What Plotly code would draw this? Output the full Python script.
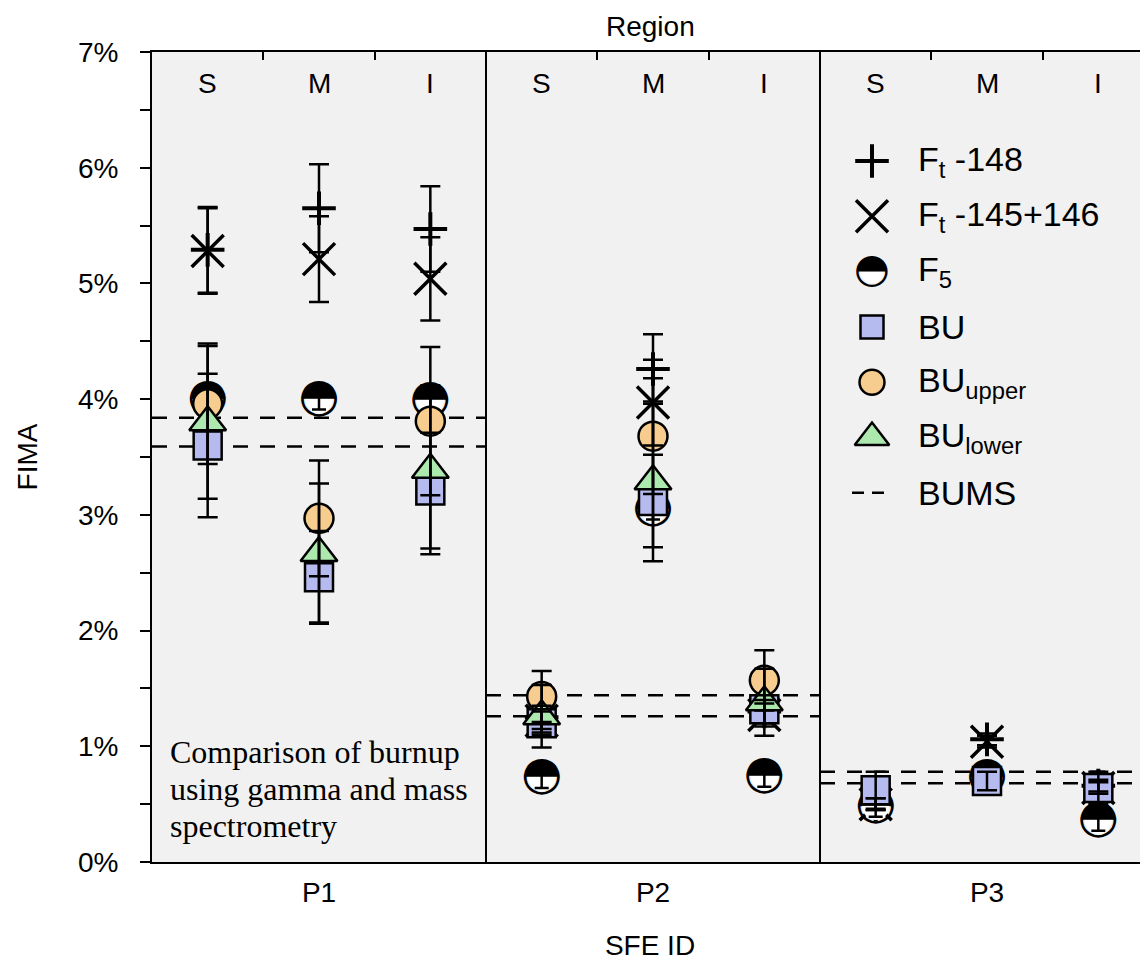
import plotly.graph_objects as go

# ---------------- data ----------------
panels = ["P1", "P2", "P3"]
regions = ["S", "M", "I"]
region_labels = ["S", "M", "I", "S", "M", "I", "S", "M", "I"]
positions = [0, 1, 2, 3, 4, 5, 6, 7, 8]

ft148 = [5.29, 5.65, 5.47, 1.25, 4.26, 1.30, 0.50, 1.06, 0.66]
ft148_err = [0.37, 0.38, 0.37, 0.10, 0.30, 0.10, 0.05, 0.05, 0.05]
ft145 = [5.28, 5.21, 5.04, 1.22, 3.97, 1.27, 0.50, 1.04, 0.64]
ft145_err = [0.37, 0.37, 0.36, 0.10, 0.37, 0.10, 0.05, 0.05, 0.05]
f5 = [4.00, 4.00, 3.99, 0.73, 3.05, 0.74, 0.48, 0.73, 0.36]
f5_err = [0.09, 0.09, 0.09, 0.09, 0.09, 0.09, 0.09, 0.09, 0.09]
bu = [3.60, 2.46, 3.21, 1.20, 3.12, 1.32, 0.62, 0.70, 0.64]
bu_err = [0.62, 0.40, 0.50, 0.10, 0.40, 0.12, 0.16, 0.08, 0.14]
bu_upper = [3.96, 2.97, 3.81, 1.43, 3.68, 1.57, None, None, None]
bu_upper_err = [0.52, 0.50, 0.64, 0.22, 0.50, 0.26, 0, 0, 0]
bu_lower = [3.80, 2.67, 3.39, 1.26, 3.29, 1.38, None, None, None]
bu_lower_err = [0.66, 0.60, 0.73, 0.27, 0.69, 0.29, 0, 0, 0]
bums_high = [3.84, 1.44, 0.78]
bums_low = [3.59, 1.26, 0.68]

y_ticks = [0, 1, 2, 3, 4, 5, 6, 7]
y_minor = [0.5, 1.5, 2.5, 3.5, 4.5, 5.5, 6.5]

legend_names = ["F<sub>t</sub> -148", "F<sub>t</sub> -145+146", "F<sub>5</sub>",
                "BU", "BU<sub>upper</sub>", "BU<sub>lower</sub>", "BUMS"]
note_lines = ["Comparison of burnup", "using gamma and mass", "spectrometry"]

# ---------------- styles / layout geometry ----------------
SANS = "Liberation Sans, Arial, sans-serif"
SERIF = "Liberation Serif, Times New Roman, serif"
GLYPH = "DejaVu Sans"
C_BU = "#b6bbef"
C_UP = "#f6cd8e"
C_LOW = "#ade8ae"
HALF = "\u25d3"
FS = 28

W, H = 1148, 964
OFF = 8  # page body margin of the html page
# wanted plot box on screen
SL, ST, SR, SB = 152, 52, 1148, 862
ML, MT = SL - OFF, ST - OFF
MR = W - (SR - OFF)
MB = H - (SB - OFF)
PW, PH = SR - SL, SB - ST

fig = go.Figure()

# BUMS dashed lines (per panel)
for i in range(len(panels)):
    x0, x1 = 3 * i - 0.5, 3 * i + 2.5
    for v in (bums_high[i], bums_low[i]):
        fig.add_trace(go.Scatter(x=[x0, x1], y=[v, v], mode="lines",
                                 line=dict(color="black", width=2.5, dash="15px,12px"),
                                 showlegend=False, hoverinfo="skip"))

# F_t-148 (+)
fig.add_trace(go.Scatter(x=positions, y=ft148, mode="markers", showlegend=False,
                         marker=dict(symbol="cross-thin", size=24,
                                     line=dict(color="black", width=4))))
# F_t-145+146 (x)
fig.add_trace(go.Scatter(x=positions, y=ft145, mode="markers", showlegend=False,
                         marker=dict(symbol="x-thin", size=32,
                                     line=dict(color="black", width=3.5))))
# F5 half-filled circle: white base + glyph
fig.add_trace(go.Scatter(x=positions, y=f5, mode="markers", showlegend=False,
                         marker=dict(symbol="circle", size=27, color="white",
                                     line=dict(width=0))))
fig.add_trace(go.Scatter(x=positions, y=f5, mode="text", showlegend=False,
                         text=[HALF] * len(positions), textposition="middle center",
                         textfont=dict(family=GLYPH, size=47, color="black"),
                         error_y=dict(type="data", array=f5_err, color="black",
                                      thickness=2.5, width=7)))
# BU squares
fig.add_trace(go.Scatter(x=positions, y=bu, mode="markers", showlegend=False,
                         marker=dict(symbol="square", size=28, color=C_BU,
                                     line=dict(color="black", width=2.5))))
# BU upper circles
fig.add_trace(go.Scatter(x=positions, y=bu_upper, mode="markers", showlegend=False,
                         marker=dict(symbol="circle", size=29, color=C_UP,
                                     line=dict(color="black", width=2.5))))
# BU lower triangles
fig.add_trace(go.Scatter(x=positions, y=bu_lower, mode="markers", showlegend=False,
                         marker=dict(symbol="triangle-up", size=32, color=C_LOW,
                                     line=dict(color="black", width=2.5))))

# error bars drawn on top of the markers
for vals, errs in ((ft148, ft148_err), (ft145, ft145_err), (bu, bu_err),
                   (bu_upper, bu_upper_err), (bu_lower, bu_lower_err)):
    fig.add_trace(go.Scatter(x=positions, y=vals, mode="markers", showlegend=False,
                             hoverinfo="skip", marker=dict(size=0.1, opacity=0),
                             error_y=dict(type="data", array=errs, color="black",
                                          thickness=2.5, width=10)))

# invisible trace so the top axis (region tick marks) is drawn
fig.add_trace(go.Scatter(x=positions, y=f5, xaxis="x3", yaxis="y", mode="markers",
                         marker=dict(size=0.1, opacity=0), showlegend=False,
                         hoverinfo="skip"))

# ---------------- manual legend (overlay axes in screen pixels) ----------------
key_x = 872
text_x = 916
row_y = [161 + 55.3 * k for k in range(len(legend_names))]

def key(**kw):
    fig.add_trace(go.Scatter(xaxis="x2", yaxis="y2", showlegend=False,
                             hoverinfo="skip", **kw))

key(x=[key_x], y=[row_y[0]], mode="markers",
    marker=dict(symbol="cross-thin", size=24, line=dict(color="black", width=4)))
key(x=[key_x], y=[row_y[1]], mode="markers",
    marker=dict(symbol="x-thin", size=32, line=dict(color="black", width=3.5)))
key(x=[key_x], y=[row_y[2]], mode="markers",
    marker=dict(symbol="circle", size=23, color="white", line=dict(width=0)))
key(x=[key_x], y=[row_y[2]], mode="text", text=[HALF], textposition="middle center",
    textfont=dict(family=GLYPH, size=41, color="black"))
key(x=[key_x], y=[row_y[3]], mode="markers",
    marker=dict(symbol="square", size=23, color=C_BU, line=dict(color="black", width=2.5)))
key(x=[key_x], y=[row_y[4]], mode="markers",
    marker=dict(symbol="circle", size=25, color=C_UP, line=dict(color="black", width=2.5)))
key(x=[key_x], y=[row_y[5]], mode="markers",
    marker=dict(symbol="triangle-up", size=30, color=C_LOW, line=dict(color="black", width=2.5)))
key(x=[key_x - 20, key_x + 20], y=[row_y[6], row_y[6]], mode="lines",
    line=dict(color="black", width=2.5, dash="12px,8px"))

annotations = []
for name, yy in zip(legend_names, row_y):
    annotations.append(dict(x=text_x, y=yy, xref="x2", yref="y2", text=name,
                            showarrow=False, xanchor="left", yanchor="middle",
                            font=dict(family=SANS, size=34, color="black")))

# region labels inside the top of the plot
for p, lab in zip(positions, region_labels):
    annotations.append(dict(x=p, y=1, xref="x", yref="paper", text=lab,
                            showarrow=False, xanchor="center", yanchor="middle",
                            yshift=-31, font=dict(family=SANS, size=FS, color="black")))

# Region title
annotations.append(dict(x=0.5, y=1, xref="paper", yref="paper", text="Region",
                        showarrow=False, xanchor="center", yanchor="bottom", yshift=8,
                        font=dict(family=SANS, size=FS, color="black")))
# inside note, one line per annotation
for k, line in enumerate(note_lines):
    annotations.append(dict(x=168, y=752 + 37 * k, xref="x2", yref="y2", text=line,
                            showarrow=False, xanchor="left", yanchor="middle",
                            font=dict(family=SERIF, size=32, color="black")))

shapes = []
for b in (2.5, 5.5):
    shapes.append(dict(type="line", x0=b, x1=b, y0=0, y1=1, xref="x", yref="paper",
                       line=dict(color="black", width=2)))

# each panel (3 positions) is ~334 px wide; the right panel is cut by the edge
px_per_unit = 334 / 3
x_range = [-0.5, -0.5 + PW / px_per_unit]

fig.update_layout(
    width=W, height=H,
    margin=dict(l=ML, r=MR, t=MT, b=MB, pad=0, autoexpand=False),
    paper_bgcolor="white",
    plot_bgcolor="#f1f1f1",
    showlegend=False,
    font=dict(family=SANS, size=FS, color="black"),
    xaxis=dict(range=x_range, tickmode="array", tickvals=[1, 4, 7], ticktext=panels,
               ticks="", showgrid=False, zeroline=False, showline=True, mirror=True,
               linecolor="black", linewidth=2, ticklabelstandoff=4, automargin=False,
               tickfont=dict(family=SANS, size=FS),
               title=dict(text="SFE ID", font=dict(family=SANS, size=FS), standoff=29)),
    xaxis3=dict(range=x_range, overlaying="x", side="top", anchor="y",
                showticklabels=False, ticks="", showgrid=False, zeroline=False,
                showline=False, automargin=False,
                minor=dict(tickmode="array", tickvals=[0.5, 1.5, 3.5, 4.5, 6.5, 7.5],
                           ticks="inside", ticklen=8, tickwidth=2, tickcolor="black")),
    yaxis=dict(range=[0, 7], tickmode="array", tickvals=y_ticks,
               ticktext=[f"{t}%" for t in y_ticks], ticks="outside", ticklen=10,
               tickwidth=2, tickcolor="black", showgrid=False, zeroline=False,
               showline=True, linecolor="black", linewidth=2, ticklabelstandoff=16,
               automargin=False, tickfont=dict(family=SANS, size=FS),
               minor=dict(tickmode="array", tickvals=y_minor, ticks="outside",
                          ticklen=10, tickwidth=2, tickcolor="black"),
               title=dict(text="FIMA", font=dict(family=SANS, size=FS), standoff=32)),
    xaxis2=dict(range=[SL, SR], overlaying="x", anchor="y2",
                visible=False, fixedrange=True, automargin=False),
    yaxis2=dict(range=[SB, ST], overlaying="y", anchor="x2",
                visible=False, fixedrange=True, automargin=False),
    annotations=annotations,
    shapes=shapes,
)

fig.write_html("out.html")
